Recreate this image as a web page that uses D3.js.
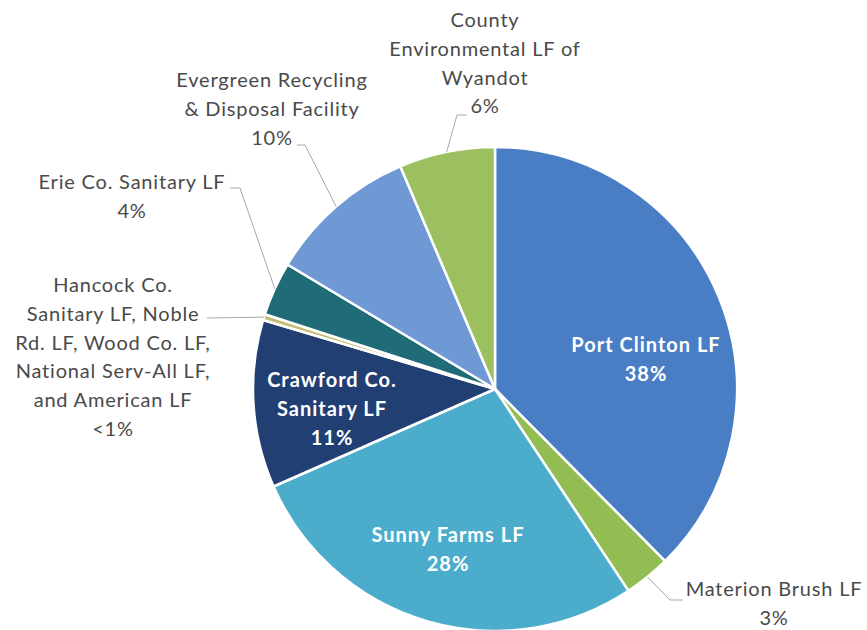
<!DOCTYPE html>
<html>
<head>
<meta charset="utf-8">
<script src="https://cdn.jsdelivr.net/npm/d3@7"></script>
<style>
  body { margin: 0; background: #fff; }
  svg { display: block; }
  .lbl-out { font-family: Lato, "Open Sans", sans-serif; font-size: 20px; letter-spacing: 0.8px; fill: #4a4a4a; }
  .lbl-in { font-family: Lato, "Open Sans", sans-serif; font-size: 20px; font-weight: bold; letter-spacing: 1px; fill: #fff; }
</style>
</head>
<body>
<div id="chart"></div>
<script>
// slices, clockwise from 12 o'clock
var names = ["Port Clinton LF", "Materion Brush LF", "Sunny Farms LF", "Crawford Co. Sanitary LF",
  "Hancock Co. Sanitary LF, Noble Rd. LF, Wood Co. LF, National Serv-All LF, and American LF",
  "Erie Co. Sanitary LF", "Evergreen Recycling & Disposal Facility", "County Environmental LF of Wyandot"];
var shares = [37.6, 3.1, 27.7, 11.2, 0.4, 3.6, 10.0, 6.4];
var pctText = ["38%", "3%", "28%", "11%", "<1%", "4%", "10%", "6%"];
var colors = ["#4a7ec4", "#92bd52", "#4badcb", "#213f73", "#c4bd73", "#1f6c78", "#6e99d5", "#9cbf5f"];

// label text lines (wrapped as in the picture)
var labelLines = [
  ["Port Clinton LF"],
  ["Materion Brush LF"],
  ["Sunny Farms LF"],
  ["Crawford Co.", "Sanitary LF"],
  ["Hancock Co.", "Sanitary LF, Noble", "Rd. LF, Wood Co. LF,", "National Serv-All LF,", "and American LF"],
  ["Erie Co. Sanitary LF"],
  ["Evergreen Recycling", "& Disposal Facility"],
  ["County", "Environmental LF of", "Wyandot"]
];

const W = 867, H = 630;
const cx = 495, cy = 389, R = 242;
const lineH = 28.8;

// label layout: inside or outside, text centre x, first line centre y, leader elbow
var layout = [
  {inside: true, x: 646, y: 345},
  {inside: false, x: 774, y: 589, elbow: [670, 600], end: [683, 600]},
  {inside: true, x: 448, y: 535},
  {inside: true, x: 332, y: 380},
  {inside: false, x: 113, y: 285, elbow: [207, 318], end: [207, 318]},
  {inside: false, x: 132, y: 182, elbow: [240, 188], end: [230, 188]},
  {inside: false, x: 272, y: 80, elbow: [305, 145], end: [297, 145]},
  {inside: false, x: 485, y: 20, elbow: [457, 115], end: [467, 115]}
];

var svg = d3.select("#chart").append("svg").attr("width", W).attr("height", H);

var pie = d3.pie().sort(null).value(d => d);
var arcs = pie(shares);
var arcPath = d3.arc().innerRadius(0).outerRadius(R);

var g = svg.append("g").attr("transform", "translate(" + cx + "," + cy + ")");
g.selectAll("path").data(arcs).enter().append("path")
  .attr("d", arcPath)
  .attr("fill", (d, i) => colors[i])
  .attr("stroke", "#fff")
  .attr("stroke-width", 2.5)
  .attr("stroke-linejoin", "round");

// leader lines from the middle of each outer slice edge
arcs.forEach((a, i) => {
  var L = layout[i];
  if (L.inside) return;
  var mid = (a.startAngle + a.endAngle) / 2;
  var p0 = [cx + R * Math.sin(mid), cy - R * Math.cos(mid)];
  svg.append("polyline")
    .attr("points", [p0, L.elbow, L.end].map(p => p.join(",")).join(" "))
    .attr("fill", "none")
    .attr("stroke", "#a6a6a6")
    .attr("stroke-width", 1);
});

// labels
layout.forEach((L, i) => {
  var lines = labelLines[i].concat([pctText[i]]);
  var t = svg.append("text")
    .attr("class", L.inside ? "lbl-in" : "lbl-out")
    .attr("text-anchor", "middle");
  lines.forEach((s, k) => {
    t.append("tspan").attr("x", L.x).attr("y", L.y + k * lineH).attr("dy", "0.35em").text(s);
  });
});
</script>
</body>
</html>
